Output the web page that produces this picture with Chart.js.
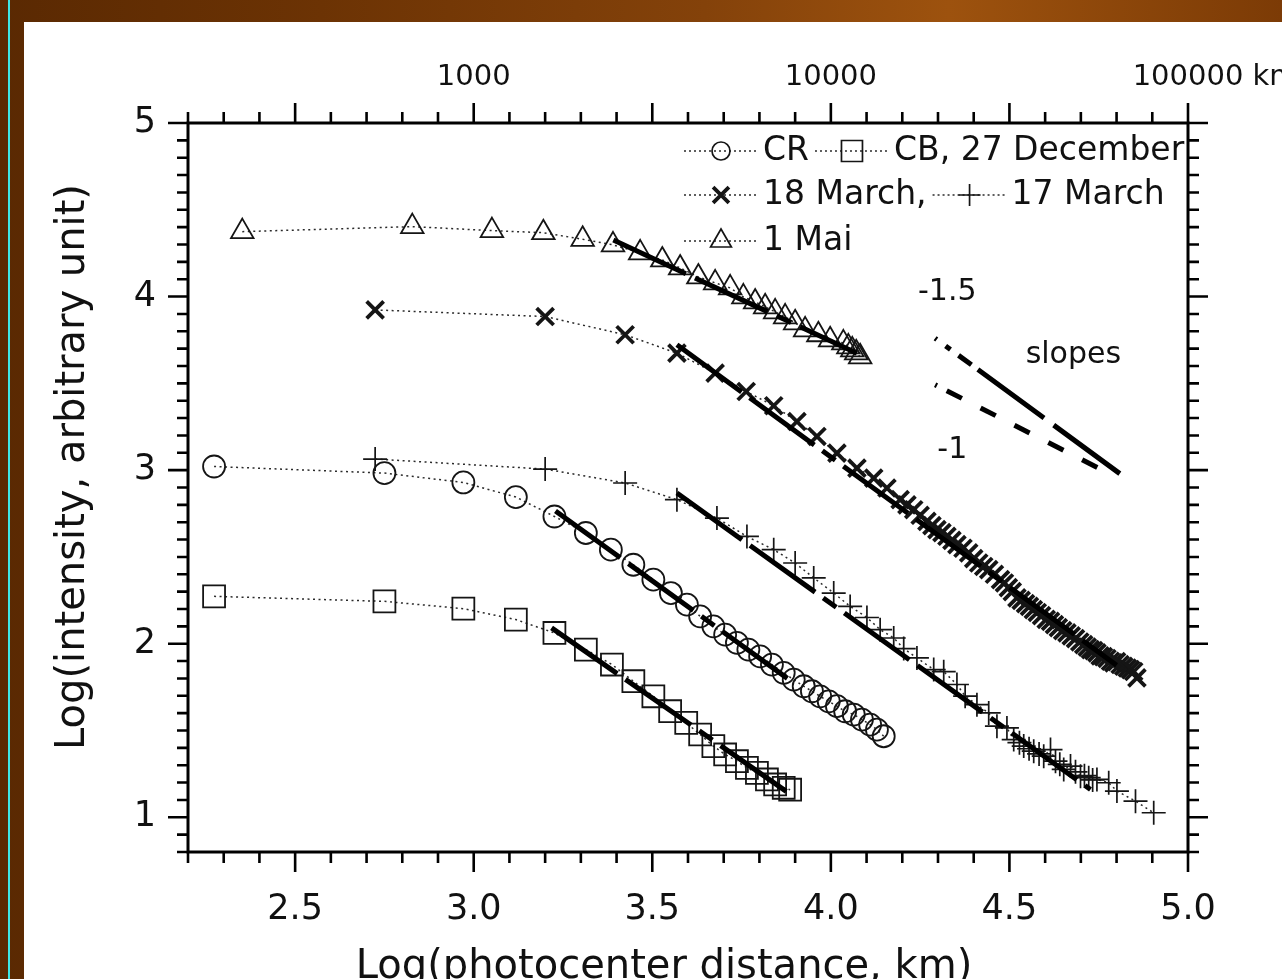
<!DOCTYPE html>
<html><head><meta charset="utf-8">
<style>
html,body{margin:0;padding:0;width:1282px;height:979px;overflow:hidden;}
body{position:relative;background:linear-gradient(90deg,#5a2902 0%,#6c3304 25%,#84420a 55%,#9d520e 74%,#7c3b06 100%);}
#cyan{position:absolute;left:8px;top:0;width:2px;height:979px;background:#3fe6e6;}
#panel{position:absolute;left:24px;top:22px;right:0;bottom:0;background:#fff;}
#c{position:absolute;left:0;top:0;}
</style>
<script src="https://cdn.jsdelivr.net/npm/chart.js@4.4.1/dist/chart.umd.min.js"></script>
</head><body>
<div id="cyan"></div><div id="panel"></div>
<canvas id="c" width="1282" height="979"></canvas>
<script>
// ---------- data (log10 distance km, log10 intensity) ----------
const maiX = [2.352, 2.828, 3.051, 3.195, 3.305, 3.390, 3.466, 3.528, 3.578, 3.629, 3.676, 3.718, 3.755, 3.788, 3.816, 3.844, 3.872, 3.900, 3.928, 3.965, 3.998, 4.035, 4.049, 4.060, 4.071, 4.082];
const maiY = [4.374, 4.403, 4.380, 4.368, 4.330, 4.298, 4.252, 4.211, 4.165, 4.113, 4.079, 4.050, 3.998, 3.969, 3.941, 3.912, 3.883, 3.849, 3.808, 3.780, 3.751, 3.733, 3.710, 3.693, 3.676, 3.653];

const crX = [2.273, 2.750, 2.971, 3.118, 3.226, 3.314, 3.384, 3.447, 3.503, 3.552, 3.597, 3.634, 3.671, 3.704, 3.737, 3.769, 3.802, 3.835, 3.868, 3.896, 3.924, 3.947, 3.970, 3.994, 4.017, 4.040, 4.064, 4.087, 4.110, 4.129, 4.148];
const crY = [3.021, 2.983, 2.929, 2.845, 2.733, 2.638, 2.542, 2.455, 2.369, 2.292, 2.225, 2.158, 2.100, 2.052, 2.005, 1.966, 1.927, 1.880, 1.832, 1.793, 1.755, 1.726, 1.697, 1.668, 1.640, 1.611, 1.592, 1.563, 1.534, 1.505, 1.467];

const cbX = [2.273, 2.750, 2.971, 3.118, 3.226, 3.314, 3.387, 3.447, 3.503, 3.550, 3.595, 3.634, 3.671, 3.704, 3.737, 3.765, 3.793, 3.821, 3.844, 3.868, 3.886];
const cbY = [2.273, 2.244, 2.202, 2.139, 2.062, 1.966, 1.880, 1.784, 1.697, 1.611, 1.544, 1.477, 1.410, 1.362, 1.323, 1.285, 1.256, 1.218, 1.189, 1.170, 1.159];

const m18X = [2.724, 3.200, 3.424, 3.569, 3.676, 3.763, 3.840, 3.905, 3.961, 4.017, 4.073, 4.120, 4.157, 4.194, 4.213, 4.232, 4.250, 4.269, 4.283, 4.297, 4.311, 4.325, 4.339, 4.353, 4.370, 4.386, 4.400, 4.414, 4.428, 4.442, 4.458, 4.475, 4.486, 4.497, 4.508, 4.521, 4.533, 4.545, 4.556, 4.567, 4.578, 4.590, 4.603, 4.615, 4.626, 4.637, 4.649, 4.661, 4.673, 4.685, 4.697, 4.708, 4.718, 4.727, 4.736, 4.745, 4.754, 4.763, 4.773, 4.783, 4.792, 4.800, 4.810, 4.820, 4.830, 4.839, 4.848, 4.857];
const m18Y = [3.923, 3.885, 3.780, 3.674, 3.559, 3.453, 3.371, 3.280, 3.194, 3.098, 3.012, 2.954, 2.897, 2.830, 2.800, 2.772, 2.740, 2.705, 2.680, 2.657, 2.640, 2.619, 2.595, 2.571, 2.550, 2.523, 2.490, 2.465, 2.445, 2.427, 2.400, 2.369, 2.350, 2.323, 2.300, 2.264, 2.250, 2.231, 2.215, 2.196, 2.180, 2.162, 2.140, 2.129, 2.110, 2.093, 2.075, 2.062, 2.045, 2.029, 2.010, 1.995, 1.980, 1.966, 1.960, 1.947, 1.930, 1.926, 1.915, 1.899, 1.890, 1.897, 1.880, 1.870, 1.860, 1.851, 1.840, 1.803];

const m17X = [2.724, 3.200, 3.424, 3.569, 3.681, 3.765, 3.840, 3.900, 3.952, 4.008, 4.054, 4.101, 4.138, 4.176, 4.204, 4.241, 4.288, 4.316, 4.353, 4.376, 4.409, 4.442, 4.465, 4.493, 4.512, 4.528, 4.540, 4.555, 4.568, 4.583, 4.596, 4.615, 4.629, 4.641, 4.652, 4.671, 4.685, 4.699, 4.710, 4.722, 4.733, 4.745, 4.778, 4.801, 4.853, 4.904];
const m17Y = [3.064, 3.006, 2.926, 2.830, 2.724, 2.618, 2.542, 2.465, 2.379, 2.292, 2.215, 2.151, 2.081, 2.033, 1.972, 1.918, 1.851, 1.839, 1.765, 1.698, 1.649, 1.601, 1.525, 1.515, 1.448, 1.430, 1.410, 1.395, 1.381, 1.365, 1.352, 1.390, 1.323, 1.305, 1.276, 1.295, 1.262, 1.237, 1.240, 1.228, 1.215, 1.218, 1.199, 1.151, 1.093, 1.026];

// fitted power-law segments
const fitMaiX = [3.391, 4.073], fitMaiY = [4.326, 3.674];
const fitCrX  = [3.229, 3.896], fitCrY  = [2.765, 1.774];
const fitCbX  = [3.218, 3.881], fitCbY  = [2.091, 1.141];
const fit18X  = [3.569, 4.800], fit18Y  = [3.722, 1.876];
const fit17X  = [3.569, 4.727], fit17Y  = [2.868, 1.160];
// reference slopes
const slope15X = [4.292, 4.829], slope15Y = [3.760, 2.950];
const slope10X = [4.292, 4.759], slope10Y = [3.492, 3.002];

// axes
const xTickValues = [2.5, 3.0, 3.5, 4.0, 4.5, 5.0];
const xTickLabels = ['2.5', '3.0', '3.5', '4.0', '4.5', '5.0'];
const yTickValues = [1, 2, 3, 4, 5];
const yTickLabels = ['1', '2', '3', '4', '5'];
const topTickValues = [3, 4, 5];
const topTickLabels = ['1000', '10000', '100000'];
const topAxisUnit = 'km';

const FONT = "'DejaVu Sans', 'Liberation Sans', sans-serif";
const pts = (xs, ys) => xs.map((x, i) => ({x: x, y: ys[i]}));

function series(label, xs, ys, style, r, bw) {
  return {label, data: pts(xs, ys), showLine: true, borderColor: '#2a2a2a', borderWidth: 1.5,
    borderDash: [2, 3.5], pointStyle: style, pointRadius: r, pointHoverRadius: r,
    pointBorderColor: '#151515', pointBackgroundColor: 'rgba(0,0,0,0)', pointBorderWidth: bw, order: 2};
}
function fit(xs, ys, dash) {
  return {label: 'fit', data: pts(xs, ys), showLine: true, borderColor: '#000', borderWidth: 5,
    borderDash: dash, borderCapStyle: 'butt', pointRadius: 0, pointHoverRadius: 0, order: 0};
}
const FITDASH = [80, 10, 80, 10, 16, 10];

// ---------- decoration plugin: frame, ticks, titles, legend, slope labels ----------
function mark(ctx, style, cx, cy, r, lw) {
  ctx.save(); ctx.setLineDash([]); ctx.lineWidth = lw; ctx.strokeStyle = '#151515'; ctx.beginPath();
  if (style === 'circle') ctx.arc(cx, cy, r, 0, 2 * Math.PI);
  else if (style === 'rect') ctx.rect(cx - r, cy - r, 2 * r, 2 * r);
  else if (style === 'triangle') { ctx.moveTo(cx, cy - r); ctx.lineTo(cx + r * 0.866, cy + r * 0.5); ctx.lineTo(cx - r * 0.866, cy + r * 0.5); ctx.closePath(); }
  else if (style === 'crossRot') { const d = r * 0.72; ctx.moveTo(cx - d, cy - d); ctx.lineTo(cx + d, cy + d); ctx.moveTo(cx + d, cy - d); ctx.lineTo(cx - d, cy + d); }
  else if (style === 'cross') { ctx.moveTo(cx - r, cy); ctx.lineTo(cx + r, cy); ctx.moveTo(cx, cy - r); ctx.lineTo(cx, cy + r); }
  ctx.stroke(); ctx.restore();
}
function legendItem(ctx, x0, y, style, r, lw, text) {
  ctx.save(); ctx.strokeStyle = '#2a2a2a'; ctx.lineWidth = 1.3; ctx.setLineDash([2, 3]);
  ctx.beginPath(); ctx.moveTo(x0, y); ctx.lineTo(x0 + 74, y); ctx.stroke(); ctx.restore();
  mark(ctx, style, x0 + 37, y, r, lw);
  ctx.fillText(text, x0 + 79, y);
  return x0 + 79 + ctx.measureText(text).width;
}

const decor = {
  id: 'decor',
  afterDraw(chart) {
    const {ctx, chartArea: a} = chart;
    const xs = chart.scales.x, ys = chart.scales.y, xt = chart.scales.x2;
    ctx.save();
    ctx.strokeStyle = '#000'; ctx.lineWidth = 3; ctx.setLineDash([]);
    ctx.strokeRect(a.left, a.top, a.right - a.left, a.bottom - a.top);
    ctx.lineWidth = 2.6; ctx.beginPath();
    for (let k = 22; k <= 50; k++) {
      const v = k / 10, p = xs.getPixelForValue(v), L = (k % 5 === 0) ? 20 : 11;
      ctx.moveTo(p, a.bottom); ctx.lineTo(p, a.bottom + L);
      ctx.moveTo(p, a.top); ctx.lineTo(p, a.top - L);
    }
    for (let k = 8; k <= 50; k++) {
      const v = k / 10, p = ys.getPixelForValue(v), L = (k % 10 === 0) ? 20 : 11;
      ctx.moveTo(a.left, p); ctx.lineTo(a.left - L, p);
      ctx.moveTo(a.right, p); ctx.lineTo(a.right + L, p);
    }
    ctx.stroke();

    ctx.fillStyle = '#111';
    // unit after the last top-axis label
    ctx.font = '29px ' + FONT; ctx.textAlign = 'left'; ctx.textBaseline = 'middle';
    const lastTop = topTickLabels[topTickLabels.length - 1];
    const ux = xt.getPixelForValue(topTickValues[topTickValues.length - 1]) + ctx.measureText(lastTop).width / 2 + ctx.measureText(' ').width;
    ctx.fillText(topAxisUnit, ux, 77);

    // axis titles
    ctx.font = '40px ' + FONT; ctx.textAlign = 'center'; ctx.textBaseline = 'alphabetic';
    ctx.fillText('Log(photocenter distance, km)', 664, 978);
    ctx.save(); ctx.translate(84, 467); ctx.rotate(-Math.PI / 2);
    ctx.fillText('Log(intensity, arbitrary unit)', 0, 0); ctx.restore();

    // slope labels
    ctx.font = '30px ' + FONT; ctx.textBaseline = 'middle';
    ctx.fillText('-1.5', xs.getPixelForValue(4.326), ys.getPixelForValue(4.027));
    ctx.fillText('slopes', xs.getPixelForValue(4.679), ys.getPixelForValue(3.664));
    ctx.fillText('-1', xs.getPixelForValue(4.340), ys.getPixelForValue(3.117));

    // legend
    ctx.font = '33px ' + FONT; ctx.textAlign = 'left'; ctx.textBaseline = 'middle';
    let e = legendItem(ctx, 684, 151, 'circle', 9, 1.7, 'CR');
    legendItem(ctx, e + 6, 151, 'rect', 10.5, 1.7, 'CB, 27 December');
    e = legendItem(ctx, 684, 195, 'crossRot', 11, 3.8, '18 March,');
    legendItem(ctx, e + 6, 195, 'cross', 11, 1.7, '17 March');
    legendItem(ctx, 684, 241, 'triangle', 12, 1.7, '1 Mai');
    ctx.restore();
  }
};

const tickFont = {family: FONT, size: 35};
new Chart(document.getElementById('c'), {
  type: 'scatter',
  data: {datasets: [
    fit(fitMaiX, fitMaiY, FITDASH),
    fit(fitCrX, fitCrY, FITDASH),
    fit(fitCbX, fitCbY, FITDASH),
    fit(fit18X, fit18Y, FITDASH),
    fit(fit17X, fit17Y, FITDASH),
    fit(slope15X, slope15Y, [2, 11, 6, 10, 16, 8, 82, 12, 82, 12]),
    fit(slope10X, slope10Y, [2, 11, 17, 21, 17, 21, 17, 21, 17, 21, 17, 21]),
    series('CR', crX, crY, 'circle', 11, 1.8),
    series('CB, 27 December', cbX, cbY, 'rect', 15.5, 1.8),
    series('18 March', m18X, m18Y, 'crossRot', 12, 3.8),
    series('17 March', m17X, m17Y, 'cross', 12, 1.7),
    series('1 Mai', maiX, maiY, 'triangle', 13, 1.8)
  ]},
  options: {
    responsive: false, devicePixelRatio: 1, animation: false, events: [],
    layout: {padding: 0},
    plugins: {legend: {display: false}, tooltip: {enabled: false}},
    scales: {
      x: {type: 'linear', position: 'bottom', min: 2.2, max: 5.0,
        afterBuildTicks: s => { s.ticks = xTickValues.map(v => ({value: v})); },
        afterFit: s => { s.height = 127; s.paddingLeft = 0; s.paddingRight = 0; },
        ticks: {autoSkip: false, maxRotation: 0, minRotation: 0, padding: 37, font: tickFont, color: '#111',
          callback: (v, i) => xTickLabels[i]},
        grid: {display: false, drawTicks: false}, border: {display: false}},
      x2: {type: 'linear', axis: 'x', position: 'top', min: 2.2, max: 5.0,
        afterBuildTicks: s => { s.ticks = topTickValues.map(v => ({value: v})); },
        afterFit: s => { s.height = 123; s.paddingLeft = 0; s.paddingRight = 0; },
        ticks: {autoSkip: false, maxRotation: 0, minRotation: 0, padding: 28, font: {family: FONT, size: 29}, color: '#111',
          callback: (v, i) => topTickLabels[i]},
        grid: {display: false, drawTicks: false}, border: {display: false}},
      y: {type: 'linear', position: 'left', min: 0.8, max: 5.0,
        afterBuildTicks: s => { s.ticks = yTickValues.map(v => ({value: v})); },
        afterFit: s => { s.width = 188; s.paddingTop = 0; s.paddingBottom = 0; },
        ticks: {autoSkip: false, padding: 32, font: tickFont, color: '#111',
          callback: (v, i) => yTickLabels[i]},
        grid: {display: false, drawTicks: false}, border: {display: false}},
      y2: {type: 'linear', axis: 'y', position: 'right', min: 0.8, max: 5.0,
        afterFit: s => { s.width = 94; s.paddingTop = 0; s.paddingBottom = 0; },
        ticks: {display: false}, grid: {display: false, drawTicks: false}, border: {display: false}}
    }
  },
  plugins: [decor]
});
</script>
</body></html>
